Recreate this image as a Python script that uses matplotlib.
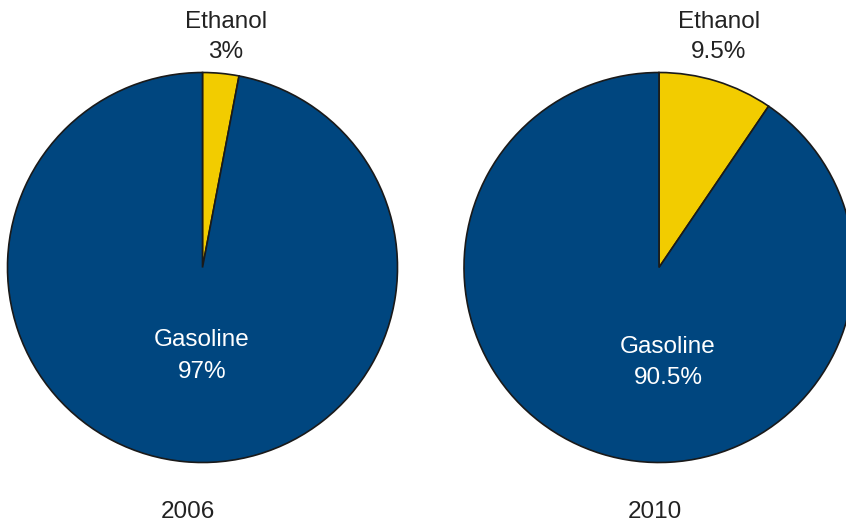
import matplotlib.pyplot as plt

# --------------------  Data ----------------------- #
years = ['2006', '2010']
ethanol = [3.0, 9.5]
gasoline = [97.0, 90.5]
ethanol_labels = ['3%', '9.5%']
gasoline_labels = ['97%', '90.5%']

blue = '#00467F'
yellow = '#F2CC00'
text_col = '#222222'

plt.rcParams['font.family'] = ['Liberation Sans', 'DejaVu Sans']

# -----------------------  Plot -------------------------- #
W, H = 846, 527
fig = plt.figure(figsize=(W / 100, H / 100), dpi=100)
ax = fig.add_axes([0, 0, 1, 1])
ax.set_xlim(0, W)
ax.set_ylim(0, H)
ax.set_aspect('equal')
ax.axis('off')

centers = [(202.5, H - 267.5), (659, H - 267.5)]
radius = 195
eth_pos = [(226, 22, 52), (719, 22, 52)]
gas_pos = [(202, 340, 372), (668, 347, 378)]
year_x = [188, 655]

for i in range(2):
    ax.pie([ethanol[i], gasoline[i]], colors=[yellow, blue], startangle=90,
           counterclock=False, center=centers[i], radius=radius, frame=True,
           wedgeprops=dict(edgecolor='#1a1a1a', linewidth=1.2))
    x, y1, y2 = eth_pos[i]
    ax.text(x, H - y1, 'Ethanol', ha='center', va='center', fontsize=17.5, color=text_col)
    ax.text(x, H - y2, ethanol_labels[i], ha='center', va='center', fontsize=17.5, color=text_col)
    x, y1, y2 = gas_pos[i]
    ax.text(x, H - y1, 'Gasoline', ha='center', va='center', fontsize=17.5, color='white')
    ax.text(x, H - y2, gasoline_labels[i], ha='center', va='center', fontsize=17.5, color='white')
    ax.text(year_x[i], H - 512, years[i], ha='center', va='center', fontsize=17.5, color=text_col)

ax.set_xlim(0, W)
ax.set_ylim(0, H)
ax.axis('off')
fig.savefig('out.png', dpi=100)
